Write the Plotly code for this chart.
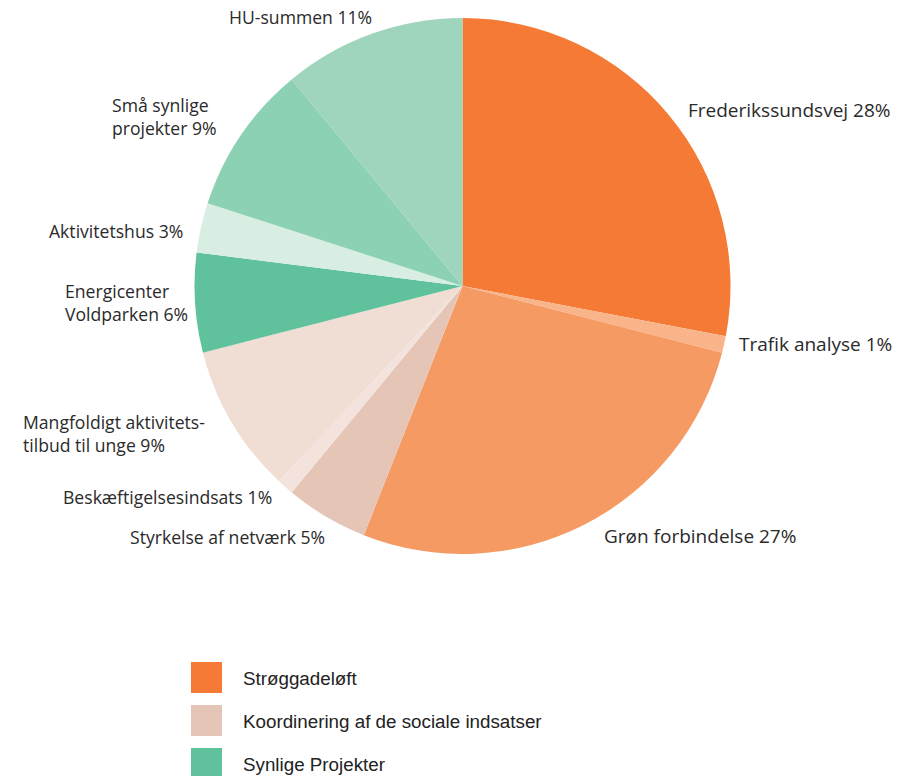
import math
import plotly.graph_objects as go

# ---- data ----
labels = ["Frederikssundsvej", "Trafik analyse", "Grøn forbindelse", "Styrkelse af netværk",
          "Beskæftigelsesindsats", "Mangfoldigt aktivitets-<br>tilbud til unge", "Energicenter<br>Voldparken",
          "Aktivitetshus", "Små synlige<br>projekter", "HU-summen"]
values = [28, 1, 27, 5, 1, 9, 6, 3, 9, 11]
colors = ["#F47A36", "#F9B48A", "#F69A63", "#E5C5B6", "#F3E3DC", "#F0DED5",
          "#60C29C", "#D8EEE3", "#8DD1B4", "#9ED5BC"]

legend_names = ["Strøggadeløft", "Koordinering af de sociale indsatser", "Synlige Projekter"]
legend_colors = ["#F47A36", "#E5C5B6", "#60C29C"]

# ---- layout (page pixels) ----
W, H = 897, 776
CX, CY, R = 462.5, 286, 268
PAD = 4            # annotation inner padding
# label offsets from slice edge point (dx, dy), and size
label_off = [(21, -5), (17, 0), (22, 11), (-3, 20), (-15, 10),
             (-29, 11), (-9, 0), (-20, 3), (-26, -19), (-2, -17)]
label_size = [19, 19, 19, 17.6, 17.6, 17.6, 17.6, 17.6, 17.6, 17.6]


def px(x):
    return x / W


def py(y):
    return 1 - y / H


fig = go.Figure(go.Pie(
    labels=labels, values=values, textinfo="none",
    sort=False, direction="clockwise", rotation=0,
    marker=dict(colors=colors, line=dict(width=0)),
    domain=dict(x=[px(CX - R), px(CX + R)], y=[py(CY + R), py(CY - R)]),
    showlegend=False, hoverinfo="label+percent",
))

annots, shapes = [], []
total = sum(values)
cum = 0
for lab, v, (dx, dy), fs in zip(labels, values, label_off, label_size):
    mid = (cum + v / 2) / total * 2 * math.pi
    cum += v
    ex = CX + R * math.sin(mid)
    ey = CY - R * math.cos(mid)
    right = math.sin(mid) >= 0
    ax = ex + dx + (-PAD if right else PAD)
    annots.append(dict(xref="paper", yref="paper", x=px(ax), y=py(ey + dy),
                       text=f"{lab} {v}%", showarrow=False,
                       xanchor="left" if right else "right", yanchor="middle", align="left",
                       font=dict(family="Open Sans", size=fs, color="#2a2a2a")))

for i, (name, col) in enumerate(zip(legend_names, legend_colors)):
    top = 662 + 43 * i
    bottom = min(top + 31, H)
    shapes.append(dict(type="rect", xref="paper", yref="paper",
                       x0=px(191), x1=px(222), y0=py(bottom), y1=py(top),
                       fillcolor=col, line=dict(width=0)))
    annots.append(dict(xref="paper", yref="paper", x=px(245 - PAD), y=py(top + 16),
                       text=name, showarrow=False, xanchor="left", yanchor="middle",
                       font=dict(family="Liberation Sans", size=18.8, color="#222222")))

fig.update_layout(width=W, height=H, margin=dict(l=0, r=0, t=0, b=0),
                  paper_bgcolor="white", plot_bgcolor="white",
                  shapes=shapes, annotations=annots)
fig.write_html("out.html", config={"displayModeBar": False},
               post_script="document.body.style.margin='0';document.body.style.overflow='hidden';")
